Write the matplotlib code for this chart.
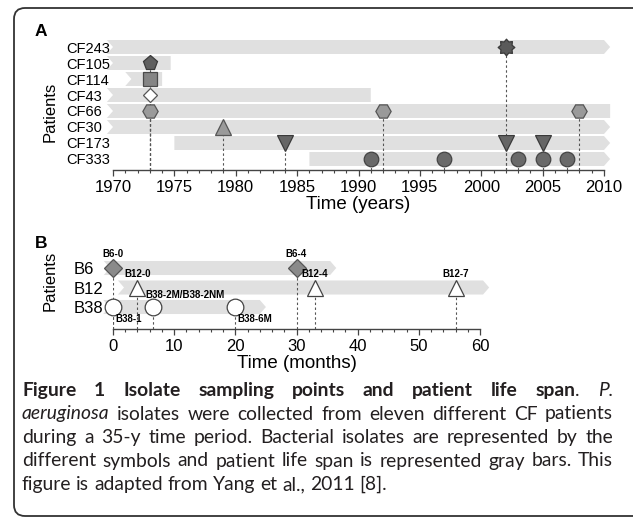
import numpy as np
import matplotlib
matplotlib.use("Agg")
import matplotlib.pyplot as plt
from matplotlib.patches import Polygon, PathPatch
from matplotlib.path import Path
from matplotlib.ticker import MultipleLocator
from matplotlib.transforms import IdentityTransform

# ---------------- data: panel A (years) ----------------
patients_a = ["CF243", "CF105", "CF114", "CF43", "CF66", "CF30", "CF173", "CF333"]
span_start_a = [1969.5, 1969.5, 1971, 1969.5, 1969.5, 1969.5, 1975, 1986]
span_end_a = [2010, 1974.7, 1974, 1991, 2010.5, 2010, 2010, 2010]
open_start_a = [True, True, True, True, True, True, False, False]
open_end_a = [True, False, False, False, False, True, True, True]
isolate_years_a = [[2002], [1973], [1973], [1973], [1973, 1992, 2008], [1979],
                   [1984, 2002, 2005], [1991, 1997, 2003, 2005, 2007]]

# ---------------- data: panel B (months) ----------------
patients_b = ["B6", "B12", "B38"]
span_start_b = [-1.5, 0.8, -1.6]
span_end_b = [35.5, 60.5, 24]
open_start_b = [True, True, True]
open_end_b = [True, True, True]
isolate_months_b = [[0, 30], [4, 33, 56], [0, 6.5, 20]]
isolate_labels_b = [["B6-0", "B6-4"], ["B12-0", "B12-4", "B12-7"],
                    ["B38-1", "B38-2M/B38-2NM", "B38-6M"]]
label_pos_b = [["above", "above"], ["above", "above", "above"],
               ["below", "aboveright", "below"]]

caption_runs = [
    [("Figure 1 Isolate sampling points and patient life span", "bold"), (". ", "normal"), ("P.", "italic")],
    [("aeruginosa", "italic"), (" isolates were collected from eleven different CF patients", "normal")],
    [("during a 35-y time period. Bacterial isolates are represented by the", "normal")],
    [("different symbols and patient life span is represented gray bars. This", "normal")],
    [("figure is adapted from Yang et al., 2011 [8].", "normal")],
]

# ---------------- styles ----------------
W, H = 633, 518
plt.rcParams["font.family"] = ["Liberation Sans Narrow", "Liberation Sans", "DejaVu Sans"]
fig = plt.figure(figsize=(W / 100, H / 100), dpi=100)
fig.patch.set_facecolor("white")

BAR = "#e0e0e0"
DASH = "#555555"

_ang = np.linspace(0, 2 * np.pi, 17)[:-1] + np.pi / 2
_rad = np.where(np.arange(16) % 2 == 0, 1.0, 0.72)
seal = Path(np.column_stack([_rad * np.cos(_ang), _rad * np.sin(_ang)]).tolist()
            + [[0, 1.0]], [Path.MOVETO] + [Path.LINETO] * 15 + [Path.CLOSEPOLY])

styles_a = [
    dict(marker=seal, ms=12, mfc="#5a5a5a", mec="#3a3a3a"),
    dict(marker="p", ms=11, mfc="#5f5f5f", mec="#3a3a3a"),
    dict(marker="s", ms=9.5, mfc="#858585", mec="#4a4a4a"),
    dict(marker="D", ms=7, mfc="white", mec="#555555"),
    dict(marker="H", ms=11, mfc="#9a9a9a", mec="#555555"),
    dict(marker="^", ms=11, mfc="#9a9a9a", mec="#555555"),
    dict(marker="v", ms=11, mfc="#666666", mec="#3a3a3a"),
    dict(marker="o", ms=10.5, mfc="#6a6a6a", mec="#444444"),
]
styles_b = [
    dict(marker="D", ms=9, mfc="#8a8a8a", mec="#555555"),
    dict(marker="^", ms=11.5, mfc="white", mec="#444444"),
    dict(marker="o", ms=12, mfc="white", mec="#444444"),
]


def px_axes(left, top, right, bottom):
    return fig.add_axes([left / W, 1 - bottom / H, (right - left) / W, (bottom - top) / H])


def span_polygon(ax, x0, x1, y, h, d, o_start, o_end):
    top, bot = y + h / 2, y - h / 2
    pts = [(x0, bot)]
    if o_start:
        pts.append((x0 + d, y))
    pts += [(x0, top), (x1, top)]
    if o_end:
        pts.append((x1 + d, y))
    pts.append((x1, bot))
    ax.add_patch(Polygon(pts, closed=True, fc=BAR, ec="none", zorder=1, clip_on=False))


def style_axis(ax, major, minor, tick_fs, ylab_fs, ypad):
    for s in ("top", "right", "left"):
        ax.spines[s].set_visible(False)
    ax.spines["bottom"].set_color("#444444")
    ax.spines["bottom"].set_linewidth(1.0)
    ax.xaxis.set_major_locator(MultipleLocator(major))
    ax.xaxis.set_minor_locator(MultipleLocator(minor))
    ax.tick_params(axis="x", which="major", length=4, width=0.9, color="#444444",
                   labelsize=tick_fs, pad=3)
    ax.tick_params(axis="x", which="minor", length=2.5, width=0.8, color="#444444")
    ax.tick_params(axis="y", length=0, labelsize=ylab_fs, pad=ypad)
    for t in ax.get_yticklabels():
        t.set_horizontalalignment("left")
    ax.patch.set_alpha(0)


def draw_panel(ax, names, starts, ends, o_s, o_e, iso, styles, h, d):
    ys = [-i for i in range(len(names))]
    ybot = ax.get_ylim()[0]
    for y, s, e, a, b, xs, st in zip(ys, starts, ends, o_s, o_e, iso, styles):
        span_polygon(ax, s, e, y, h, d, a, b)
        ax.vlines(xs, ybot, y, colors=DASH, linestyles=(0, (2.2, 2.2)), lw=0.8, zorder=2)
        ax.plot(xs, [y] * len(xs), ls="none", zorder=3, mew=0.9, clip_on=False, **st)
    ax.set_yticks(ys, names)


# ---------------- Panel A ----------------
axA = px_axes(113, 38, 604, 170)
axA.set_xlim(1970, 2010)
axA.set_ylim(-7.6875, 0.5625)
draw_panel(axA, patients_a, span_start_a, span_end_a, open_start_a, open_end_a,
           isolate_years_a, styles_a, 0.875, 0.5)
style_axis(axA, 5, 1, 12, 10.5, 34)
axA.set_xlabel("Time (years)", fontsize=13.5, labelpad=1)
axA.set_ylabel("Patients", fontsize=12, va="center")
axA.yaxis.set_label_coords((50 - 113) / 491, (170 - 112) / 132)

# ---------------- Panel B ----------------
axB = px_axes(113, 250, 480, 329)
axB.set_xlim(0, 60)
axB.set_ylim(-3.128, 0.923)
draw_panel(axB, patients_b, span_start_b, span_end_b, open_start_b, open_end_b,
           isolate_months_b, styles_b, 0.72, 1.0)
style_axis(axB, 10, 2, 12, 12, 28)
axB.set_xlabel("Time (months)", fontsize=13.5, labelpad=1)
axB.set_ylabel("Patients", fontsize=12, va="center")
axB.yaxis.set_label_coords((50 - 113) / 367, (329 - 281) / 79)

offsets = {"above": ((0, 10), "center"), "aboveright": ((-5, 8.5), "left"),
           "below": ((1.5, -8.5), "left")}
for i, (xs, labs, poss) in enumerate(zip(isolate_months_b, isolate_labels_b, label_pos_b)):
    for x, lab, p in zip(xs, labs, poss):
        off, ha = offsets[p]
        axB.annotate(lab, (x, -i), xytext=off, textcoords="offset points", ha=ha,
                     va="center", fontsize=7, fontweight="bold",
                     family=["Liberation Sans", "DejaVu Sans"], zorder=4)

# panel letters
fig.text(41 / W, 1 - 31 / H, "A", fontsize=12.5, fontweight="bold", ha="center", va="center",
         family=["Liberation Sans", "DejaVu Sans"])
fig.text(41 / W, 1 - 243 / H, "B", fontsize=12.5, fontweight="bold", ha="center", va="center",
         family=["Liberation Sans", "DejaVu Sans"])

# ---------------- frame (open on the right, beyond the picture) ----------------
fx, ftop, fbot, r, far = 14, H - 8, H - 516, 11, W + 40
frame_path = Path(
    [(far, ftop), (fx + r, ftop), (fx, ftop), (fx, ftop - r), (fx, fbot + r),
     (fx, fbot), (fx + r, fbot), (far, fbot)],
    [Path.MOVETO, Path.LINETO, Path.CURVE3, Path.CURVE3, Path.LINETO,
     Path.CURVE3, Path.CURVE3, Path.LINETO])
fig.add_artist(PathPatch(frame_path, transform=IdentityTransform(), fc="none",
                         ec="#333333", lw=1.3))

# ---------------- caption ----------------
CAP_FONT = ["Lato", "Open Sans", "DejaVu Sans"]
CAP_COLOR = "#231f20"
STY = {"normal": dict(fontweight="normal", fontstyle="normal"),
       "bold": dict(fontweight="bold", fontstyle="normal"),
       "italic": dict(fontweight="normal", fontstyle="italic")}
renderer = fig.canvas.get_renderer()


def measure(s, st, fs):
    t = fig.text(0, 0, s, fontsize=fs, family=CAP_FONT, transform=IdentityTransform(), **STY[st])
    w = t.get_window_extent(renderer).width
    t.remove()
    return w


def words_of(runs):
    words, cur = [], []
    for text, st in runs:
        buf = ""
        for ch in text:
            if ch == " ":
                if buf:
                    cur.append((buf, st))
                    buf = ""
                if cur:
                    words.append(cur)
                    cur = []
            else:
                buf += ch
        if buf:
            cur.append((buf, st))
    if cur:
        words.append(cur)
    return words


fit_text = "".join(t for t, _ in caption_runs[3])
fs = 10 * 578 / measure(fit_text, "normal", 10)
space_w = measure("a a", "normal", fs) - measure("aa", "normal", fs)
x_left, x_right = 22, 613
baselines = [396, 419.5, 443, 466.5, 490]
for li, runs in enumerate(caption_runs):
    words = words_of(runs)
    widths = [[measure(c, st, fs) for c, st in w] for w in words]
    totals = [sum(w) for w in widths]
    if li < len(caption_runs) - 1 and len(words) > 1:
        gap = (x_right - x_left - sum(totals)) / (len(words) - 1)
    else:
        gap = space_w
    x = x_left
    yb = H - baselines[li]
    for w, ws in zip(words, widths):
        xx = x
        for (c, st), cw in zip(w, ws):
            fig.text(xx, yb, c, fontsize=fs, family=CAP_FONT, color=CAP_COLOR,
                     transform=IdentityTransform(), va="baseline", ha="left", **STY[st])
            xx += cw
        x = xx + gap

fig.savefig("out.png", dpi=100)
